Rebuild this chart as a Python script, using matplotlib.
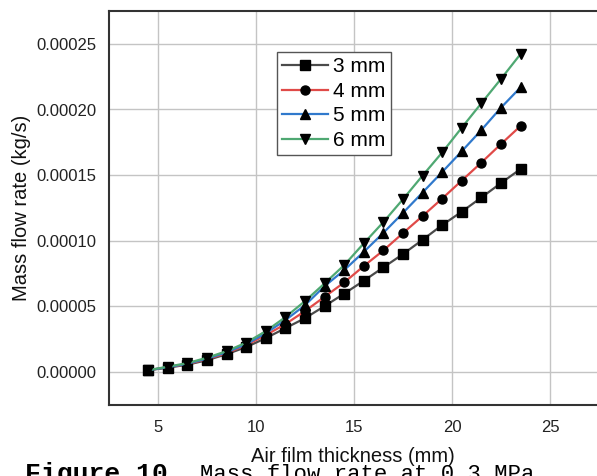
import numpy as np
import matplotlib
matplotlib.use('Agg')
import matplotlib.pyplot as plt
from matplotlib.ticker import FormatStrFormatter

plt.rcParams['font.family'] = ['Liberation Sans', 'DejaVu Sans']

# air film thickness (mm)
thickness = [4.5, 5.5, 6.5, 7.5, 8.5, 9.5, 10.5, 11.5, 12.5, 13.5,
             14.5, 15.5, 16.5, 17.5, 18.5, 19.5, 20.5, 21.5, 22.5, 23.5]

# mass flow rate (kg/s) per orifice diameter
flow_3mm = [1.5e-6, 3.4e-6, 5.7e-6, 9.1e-6, 1.37e-5, 1.91e-5, 2.59e-5, 3.35e-5, 4.11e-5, 5.03e-5,
            5.98e-5, 6.96e-5, 7.98e-5, 8.99e-5, 1.008e-4, 1.12e-4, 1.222e-4, 1.33e-4, 1.44e-4, 1.547e-4]
flow_4mm = [1.5e-6, 3.8e-6, 6.1e-6, 9.9e-6, 1.45e-5, 2.06e-5, 2.82e-5, 3.66e-5, 4.65e-5, 5.74e-5,
            6.83e-5, 8.08e-5, 9.27e-5, 1.059e-4, 1.189e-4, 1.322e-4, 1.459e-4, 1.596e-4, 1.737e-4, 1.875e-4]
flow_5mm = [1.5e-6, 3.8e-6, 6.5e-6, 1.03e-5, 1.52e-5, 2.13e-5, 2.97e-5, 3.96e-5, 5.10e-5, 6.55e-5,
            7.77e-5, 9.16e-5, 1.061e-4, 1.213e-4, 1.368e-4, 1.524e-4, 1.682e-4, 1.844e-4, 2.014e-4, 2.169e-4]
flow_6mm = [1.5e-6, 4.2e-6, 6.9e-6, 1.10e-5, 1.60e-5, 2.25e-5, 3.12e-5, 4.19e-5, 5.41e-5, 6.76e-5,
            8.15e-5, 9.81e-5, 1.143e-4, 1.317e-4, 1.497e-4, 1.673e-4, 1.862e-4, 2.048e-4, 2.233e-4, 2.423e-4]

labels = ['3 mm', '4 mm', '5 mm', '6 mm']
colors = ['#4a4a4a', '#e04a48', '#3079cc', '#4fa872']
markers = ['s', 'o', '^', 'v']
msizes = [6.5, 6.5, 7.5, 7.5]

fig = plt.figure(figsize=(5.97, 4.76), dpi=100)
ax = fig.add_axes([109 / 597, 1 - 405 / 476, 490 / 597, 394 / 476])

for y, lab, c, m, ms in zip([flow_3mm, flow_4mm, flow_5mm, flow_6mm], labels, colors, markers, msizes):
    ax.plot(thickness, y, color=c, lw=1.6, marker=m, ms=ms,
            mfc='black', mec='black', label=lab, zorder=3)

ax.set_xlim(2.5, 27.5)
ax.set_ylim(-0.000025, 0.000275)
ax.set_xticks([5, 10, 15, 20, 25])
ax.set_yticks([0, 0.00005, 0.0001, 0.00015, 0.0002, 0.00025])
ax.yaxis.set_major_formatter(FormatStrFormatter('%.5f'))
ax.tick_params(length=0, labelsize=12, colors='#222222')
ax.tick_params(axis='x', pad=11)
ax.tick_params(axis='y', pad=9)
ax.grid(True, color='#c4c4c4', lw=1)
ax.set_axisbelow(True)
for s in ax.spines.values():
    s.set_color('#333333')
    s.set_linewidth(1.5)

fig.text(353 / 597, 1 - 456 / 476, 'Air film thickness (mm)', fontsize=14.5,
         ha='center', va='center', color='#111111')
fig.text(22 / 597, 1 - 208 / 476, 'Mass flow rate (kg/s)', fontsize=14.5,
         ha='center', va='center', rotation=90, color='#111111')

leg = ax.legend(loc='upper left', bbox_to_anchor=(0.343, 0.896), borderaxespad=0,
                fontsize=15, fancybox=False, framealpha=1, edgecolor='#555555',
                handlelength=2.2, handletextpad=0.25, labelspacing=0.27, borderpad=0.25)
leg.get_frame().set_linewidth(1)

# caption, cut off at the bottom edge as in the source
fig.text(25 / 597, 1 - 481 / 476, 'Figure 10.', family='Liberation Mono',
         fontweight='bold', fontsize=19, va='baseline', ha='left')
fig.text(200 / 597, 1 - 480 / 476, 'Mass flow rate at 0.3 MPa', family='Liberation Mono',
         fontsize=16, va='baseline', ha='left')

fig.savefig('out.png', dpi=100)
